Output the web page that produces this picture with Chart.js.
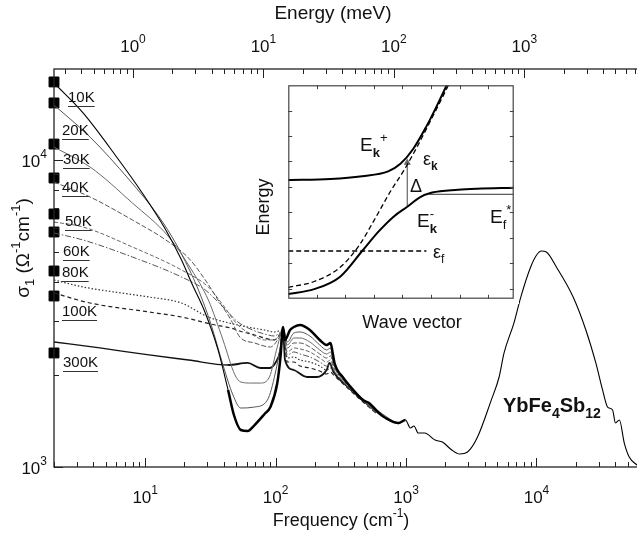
<!DOCTYPE html>
<html>
<head>
<meta charset="utf-8">
<script src="https://cdn.jsdelivr.net/npm/chart.js@4.4.1/dist/chart.umd.min.js"></script>
<style>
  html, body { margin: 0; padding: 0; background: #fff; overflow: hidden; }
  #wrap { position: relative; width: 637px; height: 535px; overflow: hidden; background: #fff; }
  #main { position: absolute; left: 0; top: 0; }
  #inset { position: absolute; left: 283px; top: 80px; }
</style>
</head>
<body>
<div id="wrap">
  <canvas id="main" width="646" height="535"></canvas>
  <canvas id="inset" width="236" height="224"></canvas>
</div>
<script>
const FONT = "'Liberation Sans', Arial, Helvetica, sans-serif";
const CM_PER_MEV = 8.0655;

// temperatures and the square markers on the left axis
const temps = ['10K', '20K', '30K', '40K', '50K', '60K', '80K', '100K', '300K'];
const markerSigma = [17960, 15340, 11270, 8738, 6670, 5828, 4350, 3606, 2352];

// sigma_1 spectra, frequency in cm-1, sigma in 1/(ohm cm)
const f10K = [2.0, 3.34, 6.04, 9.5, 14.4, 19.0, 22.7, 28.9, 36.2, 43.2, 47.9, 54.1, 61.1, 69.0, 82.2, 91.2, 103, 109, 114, 118, 129, 138, 154, 183, 218, 246, 264, 273, 283, 331, 394, 468, 520, 619, 698, 877, 990, 1080, 1150, 1240, 1390, 1670, 1900, 2240, 2580, 2960, 3530, 4500, 5170, 5640, 6710, 7580, 9020, 10020, 10900, 11900, 14200, 19100, 23900, 28500, 32100, 35100, 38300, 40300, 43200, 47100, 51400, 60000];
const s10K = [17820, 14230, 10230, 7809, 5916, 4724, 3975, 3174, 2406, 1782, 1477, 1320, 1310, 1370, 1488, 1568, 1877, 2282, 2858, 2593, 2794, 2858, 2901, 2794, 2593, 2497, 2535, 2370, 2182, 1950, 1782, 1652, 1616, 1500, 1444, 1391, 1423, 1340, 1360, 1290, 1290, 1224, 1206, 1136, 1102, 1119, 1252, 1652, 1964, 2352, 2944, 3578, 4482, 4904, 5053, 5015, 4482, 3578, 2794, 2182, 1782, 1568, 1533, 1391, 1423, 1197, 1078, 1008];

const f20K = [2.0, 3.78, 7.57, 12.8, 17.1, 21.5, 25.6, 32.1, 39.5, 47.1, 54.1, 69.0, 86.5, 99.5, 109, 114, 123, 138, 154, 183, 218, 246, 264, 278, 331, 394, 468, 619, 877];
const s20K = [15110, 11880, 8608, 6522, 5366, 4449, 3772, 2901, 2149, 1716, 1556, 1568, 1652, 2024, 2497, 2836, 2554, 2732, 2753, 2671, 2497, 2406, 2442, 2198, 1935, 1769, 1641, 1488, 1381];

const f30K = [2.0, 3.78, 7.98, 15.2, 22.7, 30.5, 39.5, 48.8, 54.1, 64.4, 76.6, 89.6, 103, 114, 123, 138, 154, 183, 218, 246, 264, 278, 331, 394, 520, 831];
const s30K = [11020, 9490, 7243, 5613, 4383, 3499, 2593, 1994, 1892, 1877, 1877, 1964, 2460, 2815, 2497, 2632, 2632, 2554, 2406, 2334, 2370, 2165, 1935, 1782, 1604, 1391];

const f40K = [2.0, 3.78, 7.98, 14.4, 21.5, 28.9, 36.2, 45.5, 53.2, 69.0, 91.2, 107, 114, 123, 138, 154, 183, 218, 246, 264, 278, 331, 415, 587];
const s40K = [8478, 7579, 6377, 5488, 4795, 4066, 3499, 3012, 2651, 2535, 2460, 2651, 2794, 2442, 2535, 2535, 2460, 2334, 2265, 2299, 2133, 1920, 1742, 1522];

const f50K = [2.0, 3.34, 7.98, 19.0, 30.5, 39.5, 51.4, 66.7, 82.2, 97.8, 114, 123, 138, 154, 183, 218, 246, 264, 278, 331, 415, 587];
const s50K = [6281, 6050, 5208, 4383, 3858, 3370, 2901, 2692, 2593, 2593, 2773, 2370, 2442, 2424, 2370, 2265, 2198, 2231, 2101, 1906, 1729, 1511];

const f60K = [2.0, 3.34, 7.98, 19.0, 28.9, 39.5, 51.4, 66.7, 82.2, 97.8, 114, 123, 138, 154, 183, 218, 246, 264, 278, 331, 415, 587];
const s60K = [5784, 5488, 4831, 4158, 3772, 3320, 2967, 2794, 2712, 2671, 2773, 2317, 2370, 2334, 2282, 2198, 2133, 2165, 2070, 1892, 1716, 1511];

const f80K = [2.0, 3.34, 10.7, 19.0, 30.5, 40.9, 51.4, 66.7, 82.2, 97.8, 114, 123, 138, 154, 183, 218, 246, 264, 278, 331, 415, 587];
const s80K = [4066, 3858, 3578, 3421, 3080, 2967, 2901, 2836, 2794, 2753, 2794, 2265, 2282, 2231, 2198, 2133, 2070, 2101, 2039, 1877, 1716, 1500];

const f100K = [2.0, 3.78, 10.7, 19.0, 34.4, 45.5, 56.0, 69.0, 82.2, 97.8, 114, 123, 138, 154, 183, 218, 246, 264, 278, 331, 415, 587];
const s100K = [3688, 3421, 3198, 3080, 2901, 2836, 2753, 2692, 2632, 2593, 2753, 2198, 2198, 2133, 2101, 2054, 2009, 2039, 1994, 1863, 1703, 1500];

const f300K = [2.0, 4.49, 10.7, 21.5, 43.2, 61.1, 76.6, 89.6, 99.5, 109, 114, 118, 138, 174, 207, 246, 259, 278, 331, 415, 587];
const s300K = [2554, 2442, 2317, 2231, 2149, 2182, 2101, 2101, 2182, 2406, 2794, 2231, 2070, 1964, 1964, 2070, 2182, 2039, 1877, 1716, 1511];

// inset: band picture (wave vector, energy), arbitrary units
const kPlusX = [0, 1.48, 2.59, 3.50, 3.93, 4.37, 4.84, 5.18, 5.55];
const kPlusY = [4.27, 4.31, 4.42, 4.61, 4.91, 5.48, 6.38, 7.13, 8.0];
const kMinusX = [0, 0.91, 1.82, 2.59, 3.16, 3.70, 4.17, 4.61, 5.04, 5.95, 6.62, 7.9];
const kMinusY = [-0.21, -0.02, 0.47, 1.48, 2.24, 2.84, 3.22, 3.59, 3.78, 3.89, 3.93, 3.97];
const epsKX = [0, 0.91, 1.82, 2.49, 3.03, 3.60, 4.03, 4.54, 4.97, 5.31, 5.61];
const epsKY = [0.05, 0.28, 0.84, 1.71, 2.73, 3.86, 4.61, 5.63, 6.57, 7.32, 8.0];
const epsFX = [0, 4.84];
const epsFY = [1.48, 1.48];
const efStarX = [4.94, 7.9];
const efStarY = [3.71, 3.71];
const gapX = [4.17, 4.17];
const gapY = [3.25, 4.95];

const pts = (xs, ys) => xs.map((x, i) => ({ x: x, y: ys[i] }));

// ---------- text helpers ----------
function partFont(p, o) {
  const s = p[1] ? Math.round(o.size * 0.68) : o.size;
  return ((p[2] || o.bold) ? 'bold ' : '') + s + 'px ' + FONT;
}
function drawRich(ctx, parts, x, y, o) {
  ctx.textBaseline = 'middle';
  ctx.textAlign = 'left';
  const widths = parts.map(p => { ctx.font = partFont(p, o); return ctx.measureText(p[0]).width; });
  let total = 0;
  parts.forEach((p, i) => { if (!p[3]) total += widths[i]; });
  let cx = o.align === 'center' ? x - total / 2 : o.align === 'right' ? x - total : x;
  const supDy = o.sup || 0.42, subDy = o.sub || 0.32;
  parts.forEach((p, i) => {
    ctx.font = partFont(p, o);
    const dy = p[1] === 1 ? -o.size * supDy : p[1] === -1 ? o.size * subDy : 0;
    ctx.fillText(p[0], cx, y + dy);
    if (!p[3]) cx += widths[i];
  });
  return total;
}
function logTicks(min, max) {
  const out = [];
  for (let e = Math.floor(Math.log10(min)); e <= Math.ceil(Math.log10(max)); e++) {
    for (let m = 1; m < 10; m++) {
      const v = m * Math.pow(10, e);
      if (v >= min * 0.999 && v <= max * 1.001) out.push([v, m === 1]);
    }
  }
  return out;
}

// ---------- main chart ----------
const styles = {
  '10K':  { color: '#000', width: 1.1, dash: [] },
  '20K':  { color: '#555', width: 1, dash: [] },
  '30K':  { color: '#6a6a6a', width: 1, dash: [] },
  '40K':  { color: '#555', width: 1, dash: [5, 2] },
  '50K':  { color: '#666', width: 1, dash: [4, 2] },
  '60K':  { color: '#555', width: 1, dash: [6, 2, 1.5, 2] },
  '80K':  { color: '#333', width: 1.2, dash: [1.5, 2] },
  '100K': { color: '#222', width: 1.2, dash: [4, 3] },
  '300K': { color: '#111', width: 1.4, dash: [] }
};
const series = [
  ['10K', f10K, s10K], ['20K', f20K, s20K], ['30K', f30K, s30K], ['40K', f40K, s40K],
  ['50K', f50K, s50K], ['60K', f60K, s60K], ['80K', f80K, s80K], ['100K', f100K, s100K],
  ['300K', f300K, s300K]
];
const datasets = series.map(([name, f, s]) => {
  const st = styles[name];
  const ds = {
    label: name,
    data: pts(f, s),
    borderColor: st.color,
    borderWidth: st.width,
    borderDash: st.dash,
    pointRadius: 0,
    fill: false,
    cubicInterpolationMode: 'monotone'
  };
  if (name === '10K') {
    ds.segment = { borderWidth: c => (c.p0.parsed.x >= 40 && c.p1.parsed.x <= 1000) ? 2.5 : 1.1 };
  }
  if (name === '300K') {
    ds.segment = { borderWidth: c => (c.p0.parsed.x >= 40 && c.p1.parsed.x <= 400) ? 1.8 : 1.3 };
  }
  return ds;
});
datasets.push({
  label: 'markers',
  data: markerSigma.map(s => ({ x: 2, y: s })),
  showLine: false,
  pointStyle: 'rect',
  pointRadius: 7,
  pointBackgroundColor: '#000',
  pointBorderColor: '#000',
  clip: false
});

const tempLabelPos = [[68, 98], [62, 131], [63, 160], [62, 188], [65, 222], [63, 252], [62, 273], [62, 312], [63, 363]];

const mainDecor = {
  id: 'mainDecor',
  afterDraw(chart) {
    const ctx = chart.ctx, a = chart.chartArea;
    const xs = chart.scales.x, ys = chart.scales.y;
    ctx.save();
    ctx.strokeStyle = '#222';
    ctx.lineWidth = 1.3;
    ctx.strokeRect(a.left, a.top, a.right - a.left, a.bottom - a.top);
    ctx.lineWidth = 1;
    ctx.beginPath();
    logTicks(xs.min, xs.max).forEach(([v, major]) => {
      const px = Math.round(xs.getPixelForValue(v)) + 0.5;
      ctx.moveTo(px, a.bottom); ctx.lineTo(px, a.bottom - (major ? 9 : 5));
    });
    logTicks(xs.min / CM_PER_MEV, xs.max / CM_PER_MEV).forEach(([v, major]) => {
      const px = Math.round(xs.getPixelForValue(v * CM_PER_MEV)) + 0.5;
      ctx.moveTo(px, a.top); ctx.lineTo(px, a.top + (major ? 9 : 5));
    });
    logTicks(ys.min, ys.max).forEach(([v, major]) => {
      const py = Math.round(ys.getPixelForValue(v)) + 0.5;
      ctx.moveTo(a.left, py); ctx.lineTo(a.left + (major ? 9 : 5), py);
    });
    ctx.stroke();

    ctx.fillStyle = '#111';
    // tick labels
    [1, 2, 3, 4].forEach(e => {
      drawRich(ctx, [['10', 0], [String(e), 1]], xs.getPixelForValue(Math.pow(10, e)), 498, { size: 17, align: 'center' });
    });
    [0, 1, 2, 3].forEach(e => {
      drawRich(ctx, [['10', 0], [String(e), 1]], xs.getPixelForValue(Math.pow(10, e) * CM_PER_MEV), 47, { size: 17, align: 'center' });
    });
    [3, 4].forEach(e => {
      drawRich(ctx, [['10', 0], [String(e), 1]], 47, ys.getPixelForValue(Math.pow(10, e)) + 2, { size: 17, align: 'right' });
    });
    // axis titles
    drawRich(ctx, [['Energy (meV)', 0]], 333, 14, { size: 19, align: 'center' });
    drawRich(ctx, [['Frequency (cm', 0], ['-1', 1], [')', 0]], 341, 521, { size: 18, align: 'center' });
    ctx.save();
    ctx.translate(24, 248);
    ctx.rotate(-Math.PI / 2);
    drawRich(ctx, [['σ', 0], ['1', -1], [' (Ω', 0], ['-1', 1], ['cm', 0], ['-1', 1], [')', 0]], 0, 0, { size: 19, align: 'center' });
    ctx.restore();

    // temperature labels, underlined
    temps.forEach((t, i) => {
      const [lx, ly] = tempLabelPos[i];
      const w = drawRich(ctx, [[t, 0]], lx, ly, { size: 15 });
      ctx.beginPath();
      ctx.lineWidth = 1;
      ctx.strokeStyle = '#333';
      ctx.moveTo(lx, ly + 8.5); ctx.lineTo(lx + w, ly + 8.5);
      ctx.stroke();
    });

    // compound name
    drawRich(ctx, [['YbFe', 0], ['4', -1], ['Sb', 0], ['12', -1]], 503, 406, { size: 20, bold: true, sub: 0.42 });

    // inset axis titles (outside the inset box)
    drawRich(ctx, [['Wave vector', 0]], 412, 323, { size: 18, align: 'center' });
    ctx.save();
    ctx.translate(264, 207);
    ctx.rotate(-Math.PI / 2);
    drawRich(ctx, [['Energy', 0]], 0, 0, { size: 18, align: 'center' });
    ctx.restore();
    ctx.restore();
  }
};

new Chart(document.getElementById('main'), {
  type: 'line',
  data: { datasets: datasets },
  options: {
    responsive: false,
    animation: false,
    devicePixelRatio: 1,
    layout: { padding: { left: 54, top: 69, right: 0, bottom: 68 } },
    plugins: { legend: { display: false }, tooltip: { enabled: false } },
    scales: {
      x: { type: 'logarithmic', min: 2, max: 60000, display: false },
      y: { type: 'logarithmic', min: 1000, max: 19790, display: false }
    }
  },
  plugins: [mainDecor]
});

// ---------- inset ----------
const insetDecor = {
  id: 'insetDecor',
  beforeDraw(chart) {
    const ctx = chart.ctx;
    ctx.save();
    ctx.fillStyle = '#fff';
    ctx.fillRect(0, 0, chart.width, chart.height);
    ctx.restore();
  },
  afterDraw(chart) {
    const ctx = chart.ctx, a = chart.chartArea;
    const xs = chart.scales.x, ys = chart.scales.y;
    ctx.save();
    ctx.strokeStyle = '#444';
    ctx.lineWidth = 1.2;
    ctx.strokeRect(a.left + 0.6, a.top + 0.6, a.right - a.left - 1.2, a.bottom - a.top - 1.2);
    ctx.lineWidth = 1;
    ctx.beginPath();
    for (let v = 1; v <= 7; v++) {
      const px = Math.round(xs.getPixelForValue(v)) + 0.5;
      ctx.moveTo(px, a.bottom); ctx.lineTo(px, a.bottom - 4);
      ctx.moveTo(px, a.top); ctx.lineTo(px, a.top + 4);
    }
    for (let v = 0; v <= 7; v++) {
      const py = Math.round(ys.getPixelForValue(v)) + 0.5;
      ctx.moveTo(a.left, py); ctx.lineTo(a.left + 4, py);
      ctx.moveTo(a.right, py); ctx.lineTo(a.right - 4, py);
    }
    ctx.stroke();

    ctx.fillStyle = '#111';
    drawRich(ctx, [['E', 0], ['k', -1, true], ['+', 1]], 77, 66, { size: 19, sub: 0.38 });
    drawRich(ctx, [['ε', 0], ['k', -1, true]], 140, 80, { size: 18, sub: 0.38 });
    drawRich(ctx, [['Δ', 0]], 127, 107, { size: 18 });
    drawRich(ctx, [['E', 0], ['k', -1, true, true], ['-', 1]], 134, 142, { size: 19, sub: 0.38 });
    drawRich(ctx, [['E', 0], ['f', -1], ['*', 1]], 207, 138, { size: 19, sub: 0.38 });
    drawRich(ctx, [['ε', 0], ['f', -1]], 150, 173, { size: 18, sub: 0.38 });
    ctx.restore();
  }
};

new Chart(document.getElementById('inset'), {
  type: 'line',
  data: {
    datasets: [
      { data: pts(kPlusX, kPlusY), borderColor: '#000', borderWidth: 2, pointRadius: 0, cubicInterpolationMode: 'monotone' },
      { data: pts(kMinusX, kMinusY), borderColor: '#000', borderWidth: 2, pointRadius: 0, cubicInterpolationMode: 'monotone' },
      { data: pts(epsKX, epsKY), borderColor: '#000', borderWidth: 1.3, borderDash: [5, 3], pointRadius: 0, cubicInterpolationMode: 'monotone' },
      { data: pts(epsFX, epsFY), borderColor: '#000', borderWidth: 1.3, borderDash: [5, 3], pointRadius: 0 },
      { data: pts(efStarX, efStarY), borderColor: '#333', borderWidth: 1, pointRadius: 0 },
      { data: pts(gapX, gapY), borderColor: '#666', borderWidth: 1.2, pointStyle: 'triangle', pointRadius: [0, 3], pointBackgroundColor: '#666', pointBorderColor: '#666' }
    ]
  },
  options: {
    responsive: false,
    animation: false,
    devicePixelRatio: 1,
    layout: { padding: 0 },
    plugins: { legend: { display: false }, tooltip: { enabled: false } },
    scales: {
      x: { type: 'linear', min: 0, max: 7.9, display: false },
      y: { type: 'linear', min: -0.4, max: 8, display: false }
    }
  },
  plugins: [insetDecor]
});
</script>
</body>
</html>
